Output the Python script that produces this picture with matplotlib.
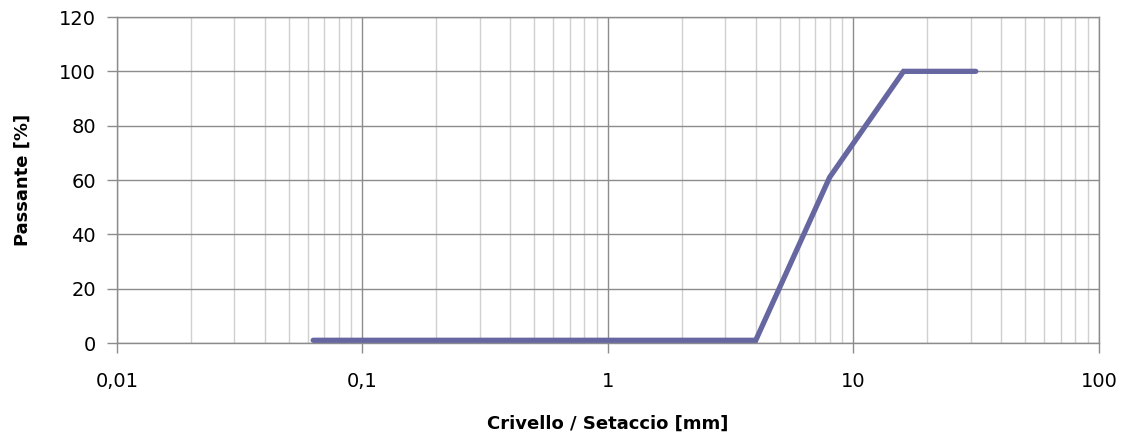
import numpy as np
import matplotlib
matplotlib.use("Agg")
import matplotlib.pyplot as plt
from matplotlib.ticker import LogLocator, FixedLocator, FuncFormatter, NullFormatter

# sieve sizes (mm) and passing percentages
setacci = [0.063, 4.0, 8.0, 16.0, 31.5]
passante = [1.0, 1.0, 61.0, 100.0, 100.0]

y_ticks = [0, 20, 40, 60, 80, 100, 120]

fig = plt.figure(figsize=(11.3, 4.36), dpi=100)
ax = fig.add_axes([0.1035, 0.2133, 0.869, 0.7477])

ax.set_xscale("log")
ax.set_xlim(0.01, 100)
ax.set_ylim(0, 120)

ax.xaxis.set_major_locator(LogLocator(base=10, numticks=10))
ax.xaxis.set_minor_locator(LogLocator(base=10, subs=np.arange(2, 10), numticks=20))
ax.xaxis.set_minor_formatter(NullFormatter())
ax.xaxis.set_major_formatter(FuncFormatter(lambda v, p: ("%g" % v).replace(".", ",")))
ax.yaxis.set_major_locator(FixedLocator(y_ticks))

ax.grid(which="major", axis="both", color="#8c8c8c", linewidth=1.0)
ax.grid(which="minor", axis="x", color="#d0d0d0", linewidth=1.0)
ax.set_axisbelow(True)

for s in ax.spines.values():
    s.set_color("#8c8c8c")
    s.set_linewidth(1.0)

ax.tick_params(which="major", direction="out", length=7, width=1, color="#8c8c8c",
               labelsize=14, pad=8)
ax.tick_params(which="minor", length=0)
ax.tick_params(axis="x", pad=14)

ax.plot(setacci, passante, color="#6667a0", linewidth=3.8, solid_capstyle="round",
        solid_joinstyle="miter", zorder=3)

ax.set_xlabel("Crivello / Setaccio [mm]", fontsize=13, fontweight="bold",
              family="DejaVu Sans", labelpad=17)
ax.set_ylabel("Passante [%]", fontsize=13, fontweight="bold",
              family="DejaVu Sans", labelpad=20)

fig.savefig("out.png", dpi=100)
